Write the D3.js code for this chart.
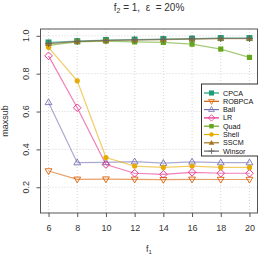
<!DOCTYPE html>
<html>
<head>
<meta charset="utf-8">
<script src="https://cdn.jsdelivr.net/npm/d3@7"></script>
<style>
body { margin: 0; background: #fff; }
text { font-family: "Liberation Sans", Arial, sans-serif; }
</style>
</head>
<body>
<svg class="canvas"></svg>
<script>
var f1 = [6, 8, 10, 12, 14, 16, 18, 20];
var names = ["CPCA", "ROBPCA", "Ball", "LR", "Quad", "Shell", "SSCM", "Winsor"];
var cpca   = [0.965, 0.972, 0.978, 0.980, 0.983, 0.985, 0.988, 0.988];
var robpca = [0.286, 0.242, 0.243, 0.242, 0.240, 0.242, 0.241, 0.241];
var ball   = [0.648, 0.330, 0.331, 0.335, 0.327, 0.334, 0.330, 0.330];
var lr     = [0.894, 0.620, 0.320, 0.274, 0.268, 0.279, 0.274, 0.274];
var quad   = [0.950, 0.968, 0.972, 0.968, 0.965, 0.956, 0.930, 0.886];
var shell  = [0.939, 0.762, 0.357, 0.312, 0.305, 0.312, 0.305, 0.305];
var sscm   = [0.958, 0.970, 0.975, 0.978, 0.980, 0.983, 0.985, 0.985];
var winsor = [0.960, 0.971, 0.976, 0.979, 0.981, 0.984, 0.986, 0.986];
var yTicks = [0.2, 0.4, 0.6, 0.8, 1.0];

var series = [cpca, robpca, ball, lr, quad, shell, sscm, winsor];
var colors = ["#1B9E77", "#D95F02", "#7570B3", "#E7298A", "#66A61E", "#E6AB02", "#A6761D", "#666666"];
var shapes = ["sqF", "triDn", "triUp", "diam", "sqFs", "circF", "triF", "plus"];

var width = 258, height = 255;
var L = 40.5, R = 257.5, T = 29, B = 213;

var svg = d3.select(".canvas").attr("width", width).attr("height", height);

var x = d3.scaleLinear().domain([5.44, 20.56]).range([L, R]);
var y = d3.scaleLinear().domain([0.064, 1.036]).range([B, T]);

// grid
svg.append("g").selectAll("line").data(f1).enter().append("line")
	.attr("x1", function(d) { return x(d); }).attr("x2", function(d) { return x(d); })
	.attr("y1", T).attr("y2", B)
	.attr("stroke", "#ccc").attr("stroke-width", 0.8).attr("stroke-dasharray", "1,2");
svg.append("g").selectAll("line").data(yTicks).enter().append("line")
	.attr("x1", L).attr("x2", R)
	.attr("y1", function(d) { return y(d); }).attr("y2", function(d) { return y(d); })
	.attr("stroke", "#ccc").attr("stroke-width", 0.8).attr("stroke-dasharray", "1,2");

// axes
var xAxis = svg.append("g").attr("transform", "translate(0," + B + ")")
	.call(d3.axisBottom(x).tickValues(f1).tickSize(4).tickPadding(8));
var yAxis = svg.append("g").attr("transform", "translate(" + L + ",0)")
	.call(d3.axisLeft(y).tickValues(yTicks).tickSize(4).tickFormat(""));
[xAxis, yAxis].forEach(function(a) {
	a.select(".domain").remove();
	a.selectAll("line").attr("stroke", "#555");
});
xAxis.selectAll("text").attr("font-size", 9).attr("fill", "#333")
	.attr("font-family", "Liberation Sans, Arial, sans-serif").attr("dy", "0.71em");

svg.append("g").selectAll("text").data(yTicks).enter().append("text")
	.attr("transform", function(d) { return "translate(29," + y(d) + ") rotate(-90)"; })
	.attr("text-anchor", "middle").attr("font-size", 9).attr("fill", "#333")
	.text(function(d) { return d3.format(".1f")(d); });

svg.append("rect").attr("x", L).attr("y", T).attr("width", R - L).attr("height", B - T)
	.attr("fill", "none").attr("stroke", "#555").attr("stroke-width", 1);

function marker(g, shape, col) {
	if (shape == "sqF") g.append("rect").attr("x", -3).attr("y", -3).attr("width", 6).attr("height", 6).attr("fill", col);
	else if (shape == "sqFs") g.append("rect").attr("x", -2.6).attr("y", -2.6).attr("width", 5.2).attr("height", 5.2).attr("fill", col);
	else if (shape == "triDn") g.append("path").attr("d", "M-3.4,-2.2L3.4,-2.2L0,3.6Z").attr("fill", "none").attr("stroke", col).attr("stroke-width", 0.9);
	else if (shape == "triUp") g.append("path").attr("d", "M-3.4,2.2L3.4,2.2L0,-3.6Z").attr("fill", "none").attr("stroke", col).attr("stroke-width", 0.9);
	else if (shape == "diam") g.append("path").attr("d", "M0,-3.8L3.8,0L0,3.8L-3.8,0Z").attr("fill", "none").attr("stroke", col).attr("stroke-width", 0.9);
	else if (shape == "circF") g.append("circle").attr("r", 2.6).attr("fill", col);
	else if (shape == "triF") g.append("path").attr("d", "M-3.3,2.2L3.3,2.2L0,-3.4Z").attr("fill", col);
	else if (shape == "plus") g.append("path").attr("d", "M-3.5,0H3.5M0,-3.5V3.5").attr("stroke", col).attr("stroke-width", 1);
}

var line = d3.line().x(function(d, i) { return x(f1[i]); }).y(function(d) { return y(d); });

series.forEach(function(s, k) {
	svg.append("path").attr("d", line(s)).attr("fill", "none")
		.attr("stroke", colors[k]).attr("stroke-opacity", 0.6).attr("stroke-width", 1.2);
	svg.append("g").selectAll("g").data(s).enter().append("g")
		.attr("transform", function(d, i) { return "translate(" + x(f1[i]) + "," + y(d) + ")"; })
		.each(function() { marker(d3.select(this), shapes[k], colors[k]); });
});

// legend
var lg = svg.append("g");
lg.append("rect").attr("x", 201.5).attr("y", 84).attr("width", 60).attr("height", 72)
	.attr("fill", "#fff").attr("stroke", "#333").attr("stroke-width", 1);
var items = lg.selectAll("g.item").data(names).enter().append("g")
	.attr("class", "item")
	.attr("transform", function(d, i) { return "translate(0," + (93 + i * 8.3) + ")"; });
items.append("line").attr("x1", 204).attr("x2", 219).attr("y1", 0).attr("y2", 0)
	.attr("stroke", function(d, i) { return colors[i]; }).attr("stroke-width", 1.2);
items.each(function(d, i) {
	var g = d3.select(this).append("g").attr("transform", "translate(211.5,0) scale(0.85)");
	marker(g, shapes[i], colors[i]);
});
items.append("text").attr("x", 223).attr("y", 0).attr("dy", "0.35em")
	.attr("font-size", 7.2).attr("fill", "#111").text(function(d) { return d; });

// titles
var title = svg.append("text").attr("x", 149).attr("y", 10.5).attr("text-anchor", "middle")
	.attr("font-size", 10).attr("fill", "#333");
title.append("tspan").text("f");
title.append("tspan").attr("font-size", 7).attr("dy", 2).text("2");
title.append("tspan").attr("dy", -2).attr("xml:space", "preserve").text(" = 1,  \u03b5  = 20%");

var xl = svg.append("text").attr("x", 149).attr("y", 252).attr("text-anchor", "middle")
	.attr("font-size", 9).attr("fill", "#333");
xl.append("tspan").text("f");
xl.append("tspan").attr("font-size", 6).attr("dy", 2).text("1");

svg.append("text").attr("transform", "translate(8,121) rotate(-90)")
	.attr("text-anchor", "middle").attr("font-size", 9).attr("fill", "#333").text("maxsub");
</script>
</body>
</html>
